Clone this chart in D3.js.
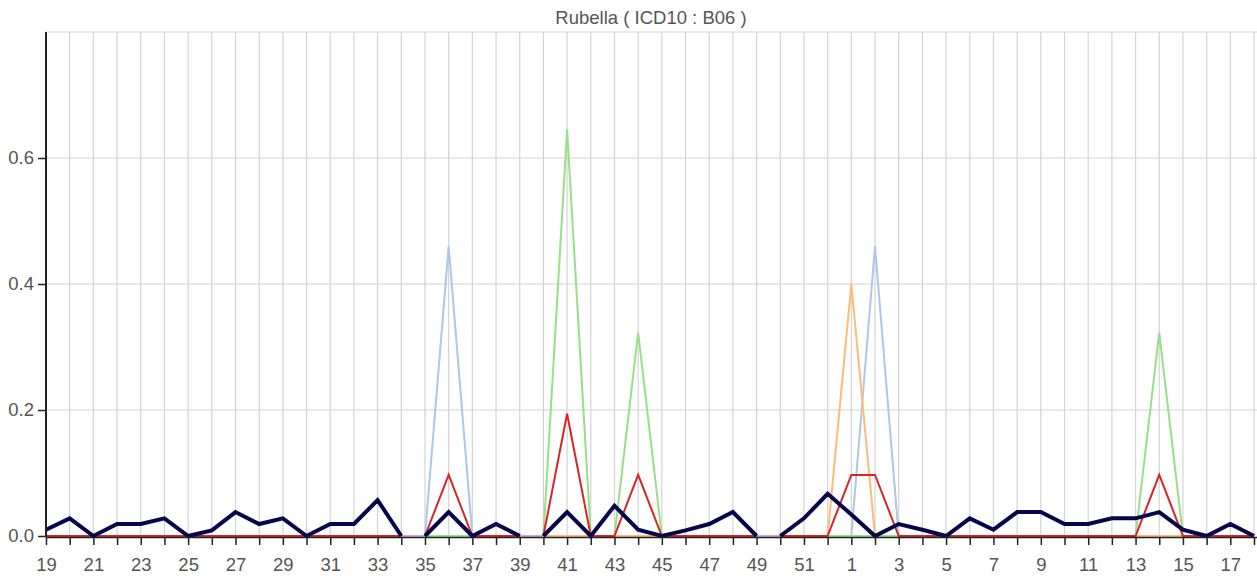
<!DOCTYPE html>
<html>
<head>
<meta charset="utf-8">
<script src="https://cdn.jsdelivr.net/npm/d3@7"></script>
<style>
  body { margin: 0; background: #fff; }
  svg { display: block; font-family: "Liberation Sans", Arial, sans-serif; }
</style>
</head>
<body>
<div id="chart"></div>
<script>
'use strict';

// - Data: epidemiological weeks (19..52 then 1..18)
const weeks = [19, 20, 21, 22, 23, 24, 25, 26, 27, 28, 29, 30, 31, 32, 33, 34, 35, 36,
  37, 38, 39, 40, 41, 42, 43, 44, 45, 46, 47, 48, 49, 50, 51, 52,
  1, 2, 3, 4, 5, 6, 7, 8, 9, 10, 11, 12, 13, 14, 15, 16, 17, 18];

// Total (thick dark line)
const totalValues = [0.010, 0.028, 0, 0.019, 0.019, 0.028, 0, 0.009, 0.038, 0.019, 0.028, 0, 0.019, 0.019, 0.057, 0, 0, 0.038,
  0, 0.019, 0, 0, 0.038, 0, 0.048, 0.010, 0, 0.009, 0.019, 0.038, 0, 0, 0.028, 0.067,
  0.034, 0, 0.019, 0.010, 0, 0.028, 0.010, 0.038, 0.038, 0.019, 0.019, 0.028, 0.028, 0.038, 0.010, 0, 0.019, 0];

const lightBlueValues = [0, 0, 0, 0, 0, 0, 0, 0, 0, 0, 0, 0, 0, 0, 0, 0, 0, 0.46,
  0, 0, 0, 0, 0, 0, 0, 0, 0, 0, 0, 0, 0, 0, 0, 0,
  0, 0.46, 0, 0, 0, 0, 0, 0, 0, 0, 0, 0, 0, 0, 0, 0, 0, 0];

const orangeValues = [0, 0, 0, 0, 0, 0, 0, 0, 0, 0, 0, 0, 0, 0, 0, 0, 0, 0,
  0, 0, 0, 0, 0, 0, 0, 0, 0, 0, 0, 0, 0, 0, 0, 0,
  0.40, 0, 0, 0, 0, 0, 0, 0, 0, 0, 0, 0, 0, 0, 0, 0, 0, 0];

const greenValues = [0, 0, 0, 0, 0, 0, 0, 0, 0, 0, 0, 0, 0, 0, 0, 0, 0, 0,
  0, 0, 0, 0, 0.645, 0, 0, 0.323, 0, 0, 0, 0, 0, 0, 0, 0,
  0, 0, 0, 0, 0, 0, 0, 0, 0, 0, 0, 0, 0, 0.323, 0, 0, 0, 0];

const redValues = [0, 0, 0, 0, 0, 0, 0, 0, 0, 0, 0, 0, 0, 0, 0, 0, 0, 0.097,
  0, 0, 0, 0, 0.194, 0, 0, 0.097, 0, 0, 0, 0, 0, 0, 0, 0,
  0.097, 0.097, 0, 0, 0, 0, 0, 0, 0, 0, 0, 0, 0, 0.097, 0, 0, 0, 0];

const lavenderValues = weeks.map(() => 0);

// weeks after which the reported series are interrupted
const gapAfter = [34, 39, 49];

const yTicks = [0, 0.2, 0.4, 0.6];
const yGrid = [0.2, 0.4, 0.6, 0.8];

const series = [
  { name: 'lavender', values: lavenderValues, color: '#c5b0d5', width: 2, gaps: false },
  { name: 'lightblue', values: lightBlueValues, color: '#aec7e8', width: 2, gaps: true },
  { name: 'orange', values: orangeValues, color: '#ffbb78', width: 2, gaps: true },
  { name: 'green', values: greenValues, color: '#98df8a', width: 2, gaps: true },
  { name: 'red', values: redValues, color: '#d62728', width: 2, gaps: true },
  { name: 'total', values: totalValues, color: '#06064a', width: 4, gaps: true }
];

// Sizes
const width = 1257, height = 579;
const plotLeft = 46, plotRight = 1254, plotTop = 32, plotBottom = 536;

const svg = d3.select('#chart').append('svg')
  .attr('width', width).attr('height', height);

const x = d3.scalePoint().domain(d3.range(weeks.length)).range([plotLeft, plotRight]);
const y = d3.scaleLinear().domain([0, 0.8]).range([plotBottom, plotTop]);

// Grid
svg.append('g').selectAll('line.vgrid')
  .data(d3.range(weeks.length))
  .join('line')
  .attr('x1', d => x(d)).attr('x2', d => x(d))
  .attr('y1', y(0.8)).attr('y2', y(0))
  .attr('stroke', '#d4d4d4').attr('stroke-width', 1.2);

svg.append('g').selectAll('line.hgrid')
  .data(yGrid)
  .join('line')
  .attr('x1', plotLeft).attr('x2', width)
  .attr('y1', d => y(d)).attr('y2', d => y(d))
  .attr('stroke', '#d4d4d4').attr('stroke-width', 1.2);

// Title
svg.append('text')
  .attr('x', (plotLeft + plotRight) / 2 + 1).attr('y', 24)
  .attr('text-anchor', 'middle')
  .attr('font-size', 18.5)
  .attr('fill', '#555')
  .text('Rubella ( ICD10 : B06 )');

// Split a series into continuous runs
function runs(values, useGaps) {
  let out = [], cur = [];
  values.forEach((v, i) => {
    cur.push([i, v]);
    if (useGaps && gapAfter.includes(weeks[i]) && i < values.length - 1) {
      out.push(cur);
      cur = [];
    }
  });
  if (cur.length) out.push(cur);
  return out;
}

const lineGen = d3.line().x(d => x(d[0])).y(d => y(d[1]));

series.forEach(s => {
  svg.append('g').selectAll('path')
    .data(runs(s.values, s.gaps))
    .join('path')
    .attr('d', lineGen)
    .attr('fill', 'none')
    .attr('stroke', s.color)
    .attr('stroke-width', s.width)
    .attr('stroke-linejoin', 'miter');
});

// Axes
const xAxis = d3.axisBottom(x)
  .tickSize(8).tickPadding(13)
  .tickFormat(i => i % 2 === 0 ? weeks[i] : '');

const gx = svg.append('g')
  .attr('transform', `translate(0,${plotBottom + 1})`)
  .call(xAxis);
gx.select('.domain').attr('stroke', '#222').attr('stroke-width', 1.5)
  .attr('d', `M${plotLeft},0.5H${width}`);
gx.selectAll('.tick line').attr('stroke', '#222').attr('stroke-width', 1.5);
gx.selectAll('.tick text').attr('font-size', 18.5).attr('fill', '#555')
  .attr('font-family', '"Liberation Sans", Arial, sans-serif');

const yAxis = d3.axisLeft(y).tickValues(yTicks).tickSize(8).tickPadding(4)
  .tickFormat(d3.format('.1f'));

const gy = svg.append('g')
  .attr('transform', `translate(${plotLeft},0)`)
  .call(yAxis);
gy.select('.domain').attr('stroke', '#222').attr('stroke-width', 2)
  .attr('d', `M0,${plotTop}V${plotBottom + 1}`);
gy.selectAll('.tick line').attr('stroke', '#222').attr('stroke-width', 1.5);
gy.selectAll('.tick text').attr('font-size', 18.5).attr('fill', '#555')
  .attr('font-family', '"Liberation Sans", Arial, sans-serif');
</script>
</body>
</html>
